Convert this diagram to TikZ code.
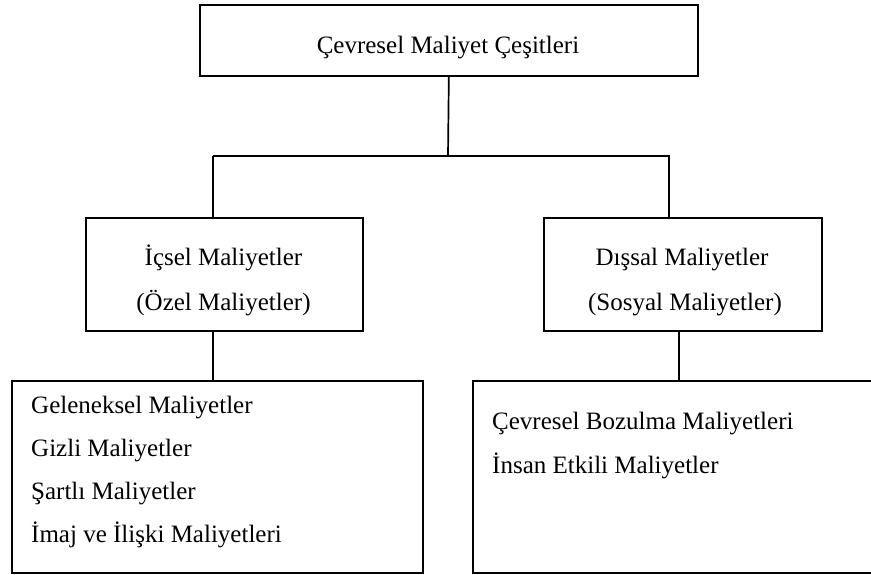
\documentclass[tikz,border=0pt]{standalone}
\usepackage{fontspec}
\setmainfont{Liberation Serif}
\begin{document}
\begin{tikzpicture}[x=1pt,y=-1pt,
  box/.style={draw=black,line width=1.7pt,rectangle,inner sep=0pt,anchor=north west},
  conn/.style={draw=black,line width=1.7pt},
  lbl/.style={inner sep=0pt,font=\fontsize{25}{30}\selectfont},
]
\useasboundingbox (0,0) rectangle (871,574);
\clip (0,0) rectangle (871,574);
% boxes
\node[box,minimum width=498pt,minimum height=71pt] (top) at (199,4) {};
\node[box,minimum width=277pt,minimum height=113pt] (lm) at (85,217) {};
\node[box,minimum width=278pt,minimum height=113pt] (rm) at (543,217) {};
\node[box,minimum width=411pt,minimum height=192pt] (lb) at (11,380) {};
\node[box,minimum width=430pt,minimum height=192pt] (rb) at (472,380) {};
% texts
\node[lbl,anchor=base] (t1) at (448,53) {Çevresel Maliyet Çeşitleri};
\node[lbl,anchor=base] (l1) at (223.5,265) {İçsel Maliyetler};
\node[lbl,anchor=base] (l2) at (223.5,310) {(Özel Maliyetler)};
\node[lbl,anchor=base] (r1) at (682,265) {Dışsal Maliyetler};
\node[lbl,anchor=base] (r2) at (685,310) {(Sosyal Maliyetler)};
\node[lbl,anchor=base west] (a1) at (31,413) {Geleneksel Maliyetler};
\node[lbl,anchor=base west] (a2) at (31,456) {Gizli Maliyetler};
\node[lbl,anchor=base west] (a3) at (31,499) {Şartlı Maliyetler};
\node[lbl,anchor=base west] (a4) at (31,542) {İmaj ve İlişki Maliyetleri};
\node[lbl,anchor=base west] (b1) at (492,429) {Çevresel Bozulma Maliyetleri};
\node[lbl,anchor=base west] (b2) at (492,473) {İnsan Etkili Maliyetler};
% connectors
\coordinate (jl) at (213,156);
\coordinate (jr) at (670,156);
\coordinate (jc) at (448,156);
\draw[conn] (top.south) -- (jc);
\draw[conn] (jl) -- (jr);
\draw[conn] (jl) -- (jl |- lm.north);
\draw[conn] (669,156) -- (669,217);
\draw[conn] (lm.south -| jl) -- (jl |- lb.north);
\draw[conn] (679,330) -- (679,380);
\end{tikzpicture}
\end{document}
